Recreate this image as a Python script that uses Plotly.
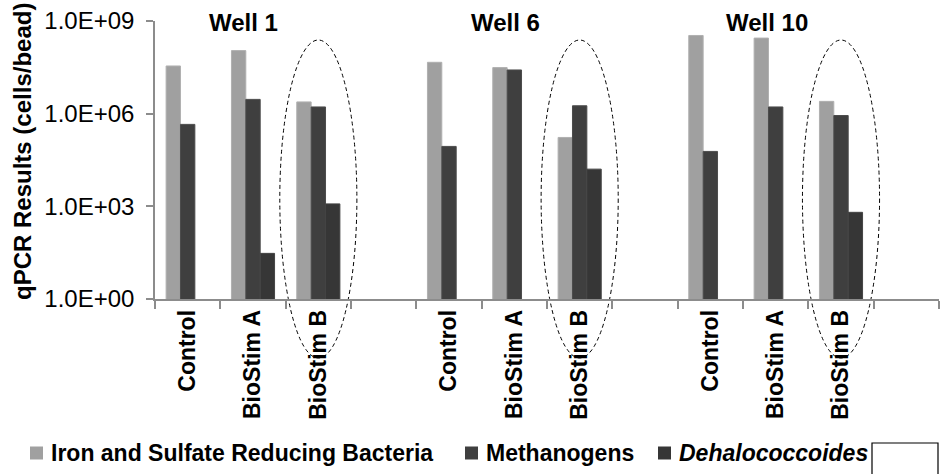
import plotly.graph_objects as go

# qPCR results per well and treatment (cells/bead)
wells = ["Well 1", "Well 6", "Well 10"]
treatments = ["Control", "BioStim A", "BioStim B"]
iron_sulfate = [3.5e7, 1.1e8, 2.4e6, 4.6e7, 3.1e7, 1.7e5, 3.4e8, 2.8e8, 2.5e6]
methanogens = [4.5e5, 2.9e6, 1.65e6, 8.7e4, 2.6e7, 1.8e6, 6.0e4, 1.65e6, 8.7e5]
dehalococcoides = [None, 30, 1.2e3, None, None, 1.6e4, None, None, 6.4e2]
y_tick_vals = [1, 1e3, 1e6, 1e9]
y_tick_text = ["1.0E+00", "1.0E+03", "1.0E+06", "1.0E+09"]

# each well occupies three category slots followed by one empty slot
slot = 4
xpos = [w * slot + j for w in range(len(wells)) for j in range(len(treatments))]
xlabels = treatments * len(wells)
n_slots = slot * len(wells) - 1

W, H = 940, 474
ML, MR, MT, MB = 155, 1, 21, 175
PW, PH = W - ML - MR, H - MT - MB

FONT = "Liberation Sans, Arial, sans-serif"
AXIS_GRAY = "#8c8c8c"


def px_x(px):
    return (px - ML) / PW


def px_y(py):
    return (H - MB - py) / PH


fig = go.Figure()
series = [
    ("Iron and Sulfate Reducing Bacteria", iron_sulfate, "#a0a0a0", "#b0b0b0"),
    ("Methanogens", methanogens, "#3f3f3f", "#4c4c4c"),
    ("<i>Dehalococcoides</i>", dehalococcoides, "#363636", "#444444"),
]
for name, vals, color, edge in series:
    fig.add_trace(go.Bar(
        x=xpos, y=vals, name=name, showlegend=False,
        marker=dict(color=color, line=dict(color=edge, width=1)),
    ))

# legend row drawn along the bottom: swatch + label per series
legend_swatch_left = [30, 465, 658]
legend_cy = 453
for (name, _, color, _), sx in zip(series, legend_swatch_left):
    fig.add_shape(
        type="rect", xref="paper", yref="paper",
        x0=px_x(sx), x1=px_x(sx + 13),
        y0=px_y(legend_cy + 6.5), y1=px_y(legend_cy - 6.5),
        line=dict(width=0), fillcolor=color,
    )
    fig.add_annotation(
        x=px_x(sx + 19), y=px_y(legend_cy), xref="paper", yref="paper",
        text=name, showarrow=False, xanchor="left", yanchor="middle",
        font=dict(family=FONT, size=23, color="black", weight="bold"),
    )

# empty framed box at the end of the legend row
fig.add_shape(
    type="rect", xref="paper", yref="paper",
    x0=px_x(872), x1=px_x(938), y0=px_y(476), y1=px_y(443),
    line=dict(color="black", width=1.2), fillcolor="white",
)

# dashed ellipses around the BioStim B groups
for w in range(len(wells)):
    cx = w * slot + treatments.index("BioStim B")
    fig.add_shape(
        type="circle", xref="x", yref="paper",
        x0=cx - 0.59, x1=cx + 0.59, y0=px_y(358), y1=px_y(40),
        line=dict(color="black", width=1, dash="4px,3px"),
        layer="below",
    )

# well titles above each group
for w, title in enumerate(wells):
    fig.add_annotation(
        x=w * slot + 0.86, y=px_y(23), xref="x", yref="paper",
        text=title, showarrow=False, yanchor="middle", xanchor="center",
        font=dict(family=FONT, size=24, color="black", weight="bold"),
    )

# y axis title
fig.add_annotation(
    x=px_x(22), y=px_y(152), xref="paper", yref="paper",
    text="qPCR Results (cells/bead)", textangle=-90, showarrow=False,
    xanchor="center", yanchor="middle",
    font=dict(family=FONT, size=24, color="black", weight="bold"),
)

fig.update_layout(
    width=W, height=H,
    margin=dict(l=ML, r=MR, t=MT, b=MB, autoexpand=False),
    paper_bgcolor="white", plot_bgcolor="rgba(0,0,0,0)",
    barmode="group", bargap=0.34, bargroupgap=0,
    showlegend=False,
    xaxis=dict(
        range=[-0.5, n_slots + 0.5],
        tickmode="array", tickvals=xpos, ticktext=xlabels,
        tickangle=-90, ticks="", ticklabelstandoff=0,
        tickfont=dict(family=FONT, size=23, color="black", weight="bold"),
        showline=True, linecolor=AXIS_GRAY, linewidth=1.5,
        showgrid=False, zeroline=False, automargin=False,
        minor=dict(
            tickmode="array",
            tickvals=[i - 0.5 for i in range(n_slots + 2)],
            ticks="outside", ticklen=8, tickcolor=AXIS_GRAY, tickwidth=1.5,
            showgrid=False,
        ),
    ),
    yaxis=dict(
        type="log", range=[0, 9],
        tickmode="array", tickvals=y_tick_vals, ticktext=y_tick_text,
        ticks="outside", ticklen=7, tickcolor=AXIS_GRAY, tickwidth=1.5,
        ticklabelstandoff=7,
        tickfont=dict(family=FONT, size=24, color="black"),
        showline=True, linecolor=AXIS_GRAY, linewidth=1.5,
        showgrid=False, zeroline=False, automargin=False,
    ),
)

fig.write_html("out.html")
